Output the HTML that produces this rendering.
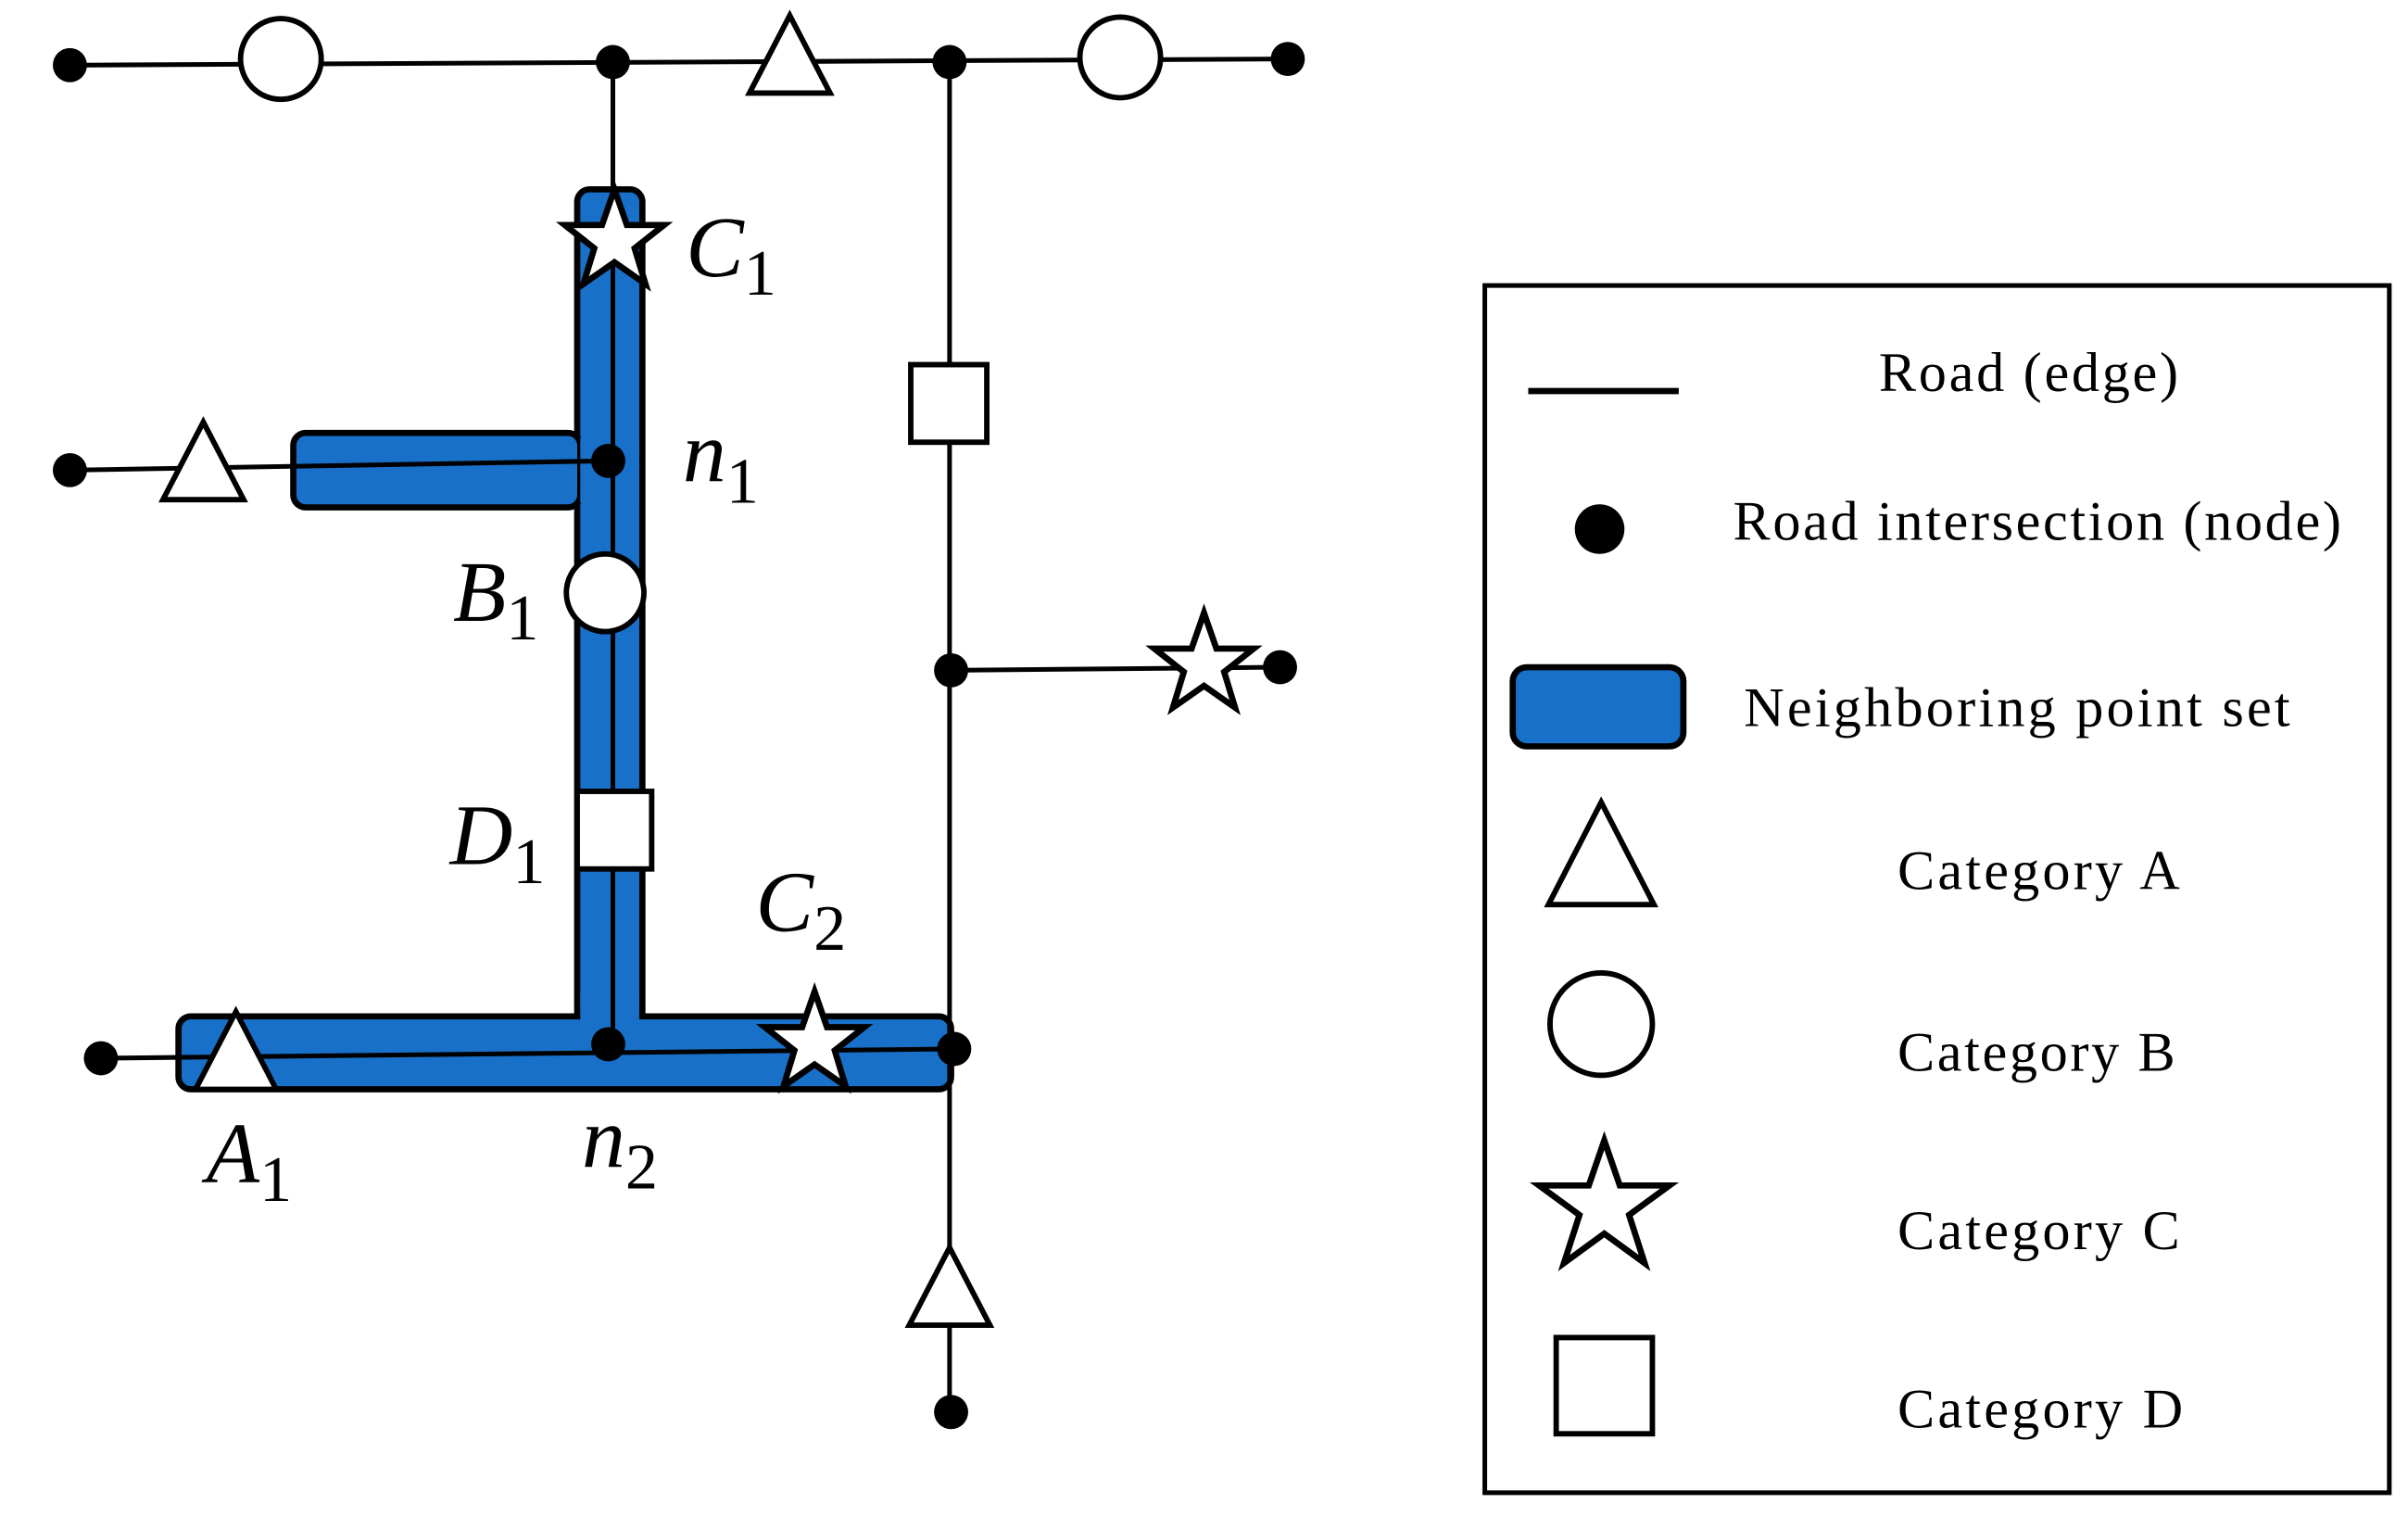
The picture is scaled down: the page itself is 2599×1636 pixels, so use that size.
<!DOCTYPE html>
<html><head><style>html,body{margin:0;padding:0;background:#fff}svg{display:block}</style></head>
<body>
<svg width="2599" height="1636" viewBox="0 0 1552 977" xmlns="http://www.w3.org/2000/svg">
<defs>
<polygon id="star" points="0,-33 8,-10 32,-10 13,5 20,28 0,14 -20,28 -13,5 -32,-10 -8,-10" fill="#fff" stroke="#000" stroke-width="4" stroke-linejoin="miter"/>
<polygon id="tri" points="0,-28 26,22 -26,22" fill="#fff" stroke="#000" stroke-width="3.5"/>
</defs>
<g stroke="#000" stroke-width="3">
<rect x="372" y="122" width="42" height="540" rx="8" fill="#1870C8" stroke-width="4"/>
<rect x="189" y="279" width="185" height="48" rx="8" fill="#1870C8" stroke-width="4"/>
<rect x="115" y="655" width="498" height="47" rx="8" fill="#1870C8" stroke-width="4"/>
<rect x="374" y="282" width="38" height="42" fill="#1870C8" stroke="none"/>
<rect x="374" y="640" width="38" height="20" fill="#1870C8" stroke="none"/>
<line x1="45" y1="42" x2="830" y2="38"/>
<line x1="395" y1="40" x2="395" y2="673"/>
<line x1="612" y1="40" x2="612" y2="910"/>
<line x1="45" y1="303" x2="392" y2="297"/>
<line x1="65" y1="682" x2="615" y2="676"/>
<line x1="613" y1="432" x2="825" y2="430"/>
</g>
<g fill="#000">
<circle cx="45" cy="42" r="11"/><circle cx="395" cy="40" r="11"/><circle cx="612" cy="40" r="11"/><circle cx="830" cy="38" r="11"/>
<circle cx="45" cy="303" r="11"/><circle cx="392" cy="297" r="11"/>
<circle cx="613" cy="432" r="11"/><circle cx="825" cy="430" r="11"/>
<circle cx="65" cy="682" r="11"/><circle cx="392" cy="673" r="11"/><circle cx="615" cy="676" r="11"/>
<circle cx="613" cy="910" r="11"/>
</g>
<g fill="#fff" stroke="#000" stroke-width="3.5">
<circle cx="181" cy="38" r="26"/>
<circle cx="722" cy="37" r="26"/>
<circle cx="390" cy="382" r="25"/>
<rect x="372" y="510" width="48" height="50"/>
<rect x="587" y="235" width="49" height="50"/>
</g>
<use href="#tri" x="509" y="38"/>
<use href="#tri" x="131" y="300"/>
<use href="#tri" x="152" y="680"/>
<use href="#tri" x="612" y="832"/>
<use href="#star" x="396" y="155"/>
<use href="#star" x="525" y="672"/>
<use href="#star" x="776" y="428"/>
<g font-family="Liberation Serif, serif" font-style="italic" font-size="56" fill="#000">
<text x="442" y="178">C<tspan font-style="normal" font-size="42" dy="12">1</tspan></text>
<text x="440" y="310">n<tspan font-style="normal" font-size="42" dy="14">1</tspan></text>
<text x="292" y="400">B<tspan font-style="normal" font-size="42" dy="12">1</tspan></text>
<text x="290" y="557">D<tspan font-style="normal" font-size="42" dy="12">1</tspan></text>
<text x="487" y="600">C<tspan font-style="normal" font-size="42" dy="12">2</tspan></text>
<text x="133" y="762">A<tspan font-style="normal" font-size="42" dy="12">1</tspan></text>
<text x="375" y="752">n<tspan font-style="normal" font-size="42" dy="14">2</tspan></text>
</g>
<rect x="957" y="184" width="583" height="778" fill="none" stroke="#000" stroke-width="3"/>
<line x1="985" y1="252" x2="1082" y2="252" stroke="#000" stroke-width="4"/>
<circle cx="1031" cy="341" r="16" fill="#000"/>
<rect x="975" y="430" width="110" height="51" rx="9" fill="#1870C8" stroke="#000" stroke-width="4"/>
<polygon points="1032,517 1066,583 998,583" fill="#fff" stroke="#000" stroke-width="3.5"/>
<circle cx="1032" cy="660" r="33" fill="#fff" stroke="#000" stroke-width="3.5"/>
<polygon points="1034,735 1044,764 1076,764 1050,783 1060,814 1034,795 1008,814 1018,783 992,764 1024,764" fill="#fff" stroke="#000" stroke-width="4"/>
<rect x="1003" y="862" width="62" height="62" fill="#fff" stroke="#000" stroke-width="3.5"/>
<g font-family="Liberation Serif, serif" font-size="36" fill="#000">
<text x="1211" y="252" textLength="193">Road (edge)</text>
<text x="1117" y="348" textLength="392">Road intersection (node)</text>
<text x="1124" y="468" textLength="352">Neighboring point set</text>
<text x="1223" y="573" textLength="182">Category A</text>
<text x="1223" y="690" textLength="179">Category B</text>
<text x="1223" y="805" textLength="182">Category C</text>
<text x="1223" y="920" textLength="184">Category D</text>
</g>
</svg>
</body></html>
